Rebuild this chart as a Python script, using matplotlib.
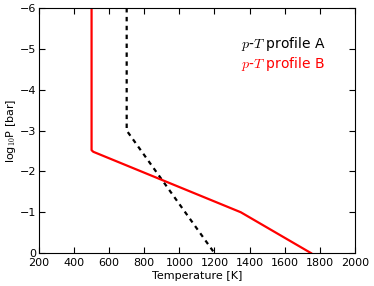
import matplotlib
matplotlib.use("Agg")
import matplotlib.pyplot as plt

plt.rcParams['mathtext.fontset'] = 'cm'

# Profile A (black dashed)
temp_a = [700, 700, 1200]
logp_a = [-6, -3, 0]
# Profile B (red solid)
temp_b = [500, 500, 510, 1350, 1750]
logp_b = [-6, -2.52, -2.48, -1.0, 0]

xticks = [200, 400, 600, 800, 1000, 1200, 1400, 1600, 1800, 2000]
yticks = [0, -1, -2, -3, -4, -5, -6]

fig = plt.figure(figsize=(3.74, 2.86), dpi=100)
ax = fig.add_axes([0.104, 0.115, 0.845, 0.857])

ax.plot(temp_a, logp_a, color='black', linestyle='--', linewidth=1.6, dashes=(2, 2))
ax.plot(temp_b, logp_b, color='red', linewidth=1.6)

ax.set_xlim(200, 2000)
ax.set_ylim(0, -6)
ax.set_xticks(xticks)
ax.set_yticks(yticks)
ax.tick_params(direction='in', top=True, right=True, labelsize=8, length=4)
ax.tick_params(axis='x', pad=3.5)
ax.tick_params(axis='y', pad=2)
ax.set_xlabel('Temperature [K]', fontsize=8, labelpad=2)
ax.set_ylabel(r'log$_{10}$P [bar]', fontsize=8, labelpad=1)

ax.text(1350, -5.12, r'$p$-$T$ profile A', color='black', fontsize=10, va='center', ha='left')
ax.text(1350, -4.63, r'$p$-$T$ profile B', color='red', fontsize=10, va='center', ha='left')

fig.savefig('out.png', dpi=100)
